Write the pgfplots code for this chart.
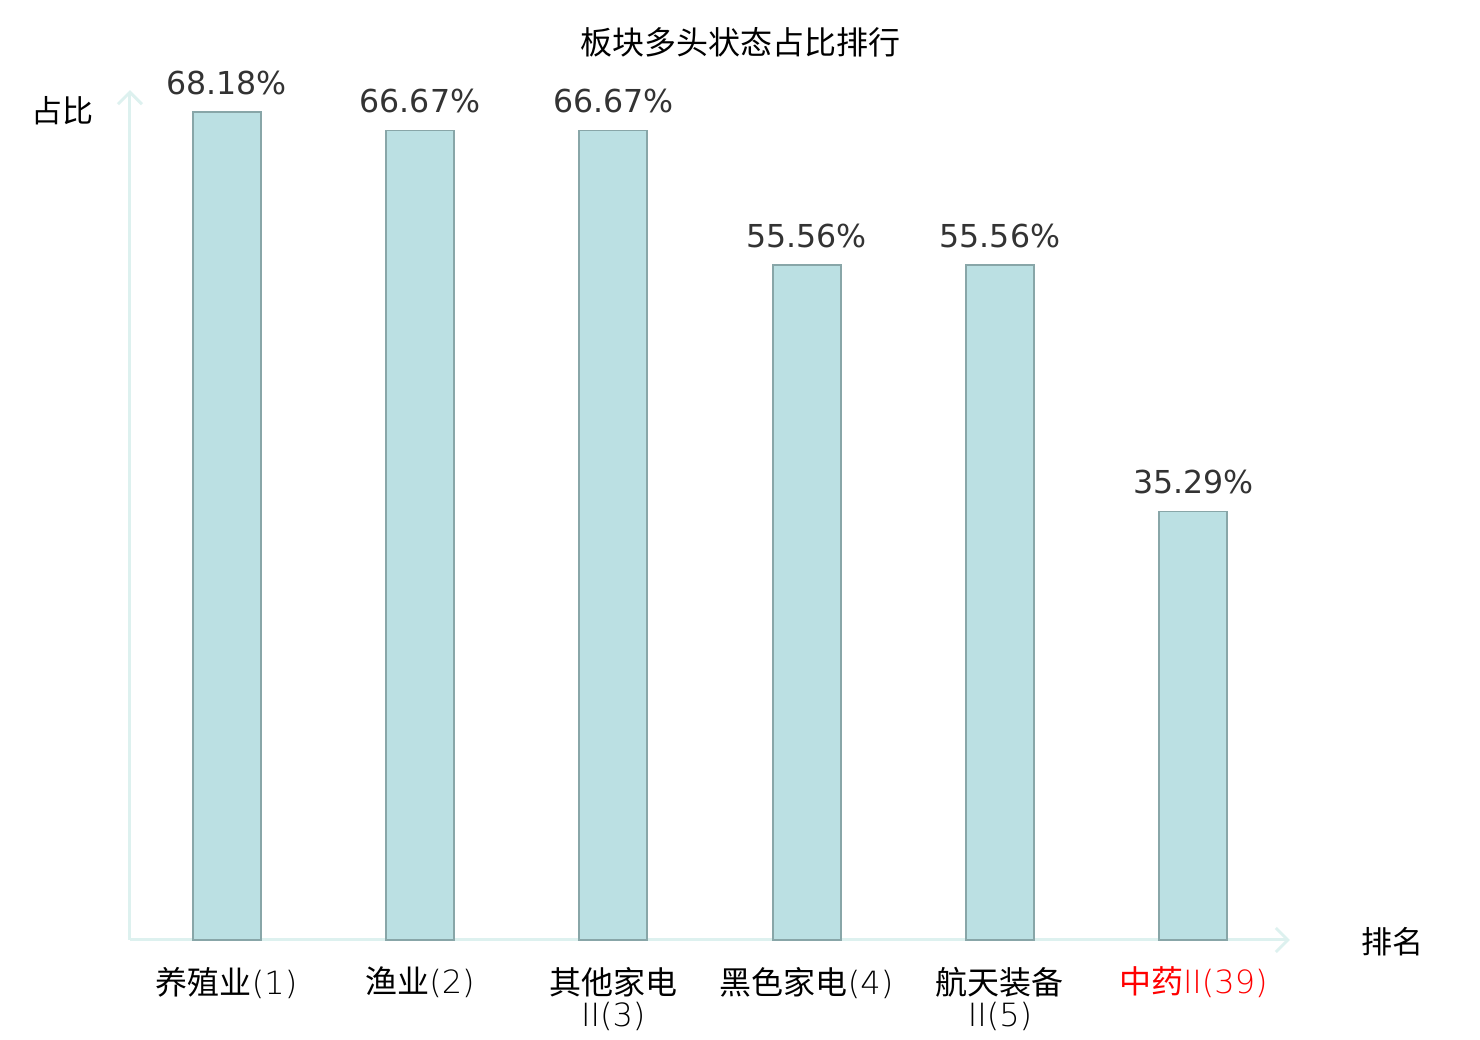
\documentclass[border=0pt]{standalone}
\usepackage{pgfplots}
\pgfplotsset{compat=1.18}
\usetikzlibrary{arrows.meta}
\usepackage{fontspec}
\setmainfont{DejaVu Sans}
\newfontfamily\cjk{Noto Sans CJK SC}
\newfontfamily\thin{DejaVu Sans ExtraLight}
\definecolor{barfill}{HTML}{BBE0E3}
\definecolor{baredge}{HTML}{88A6A8}
\definecolor{axcol}{HTML}{DDF1EF}
\definecolor{valcol}{HTML}{333333}
\begin{document}
\begin{tikzpicture}
\path[use as bounding box, fill=white] (-65pt,-50pt) rectangle (675pt,470pt);
\begin{axis}[
  at={(0,0)}, anchor=south west,
  scale only axis, width=580pt, height=425pt,
  xmin=-0.5, xmax=5.5, ymin=0, ymax=70,
  axis x line=bottom, axis y line=left,
  axis line style={draw=axcol, line width=1.5pt, -{Straight Barb[length=6pt,width=12pt]}},
  ytick=\empty,
  xtick=data,
  major tick length=0pt,
  xticklabels={{养殖业{\thin(1)}},{渔业{\thin(2)}},{其他家电\\{\thin II(3)}},{黑色家电{\thin(4)}},{航天装备\\{\thin II(5)}},{\textcolor{red}{中药{\thin II(39)}}}},
  xticklabel style={font=\cjk\fontsize{16}{16}\selectfont, align=center, yshift=-10pt, text=black},
  /pgf/number format/assume math mode=true,
  ybar, bar width=34pt,
  nodes near coords={\pgfmathprintnumber[fixed,precision=2,fixed zerofill]{\pgfplotspointmeta}\%},
  nodes near coords style={font=\fontsize{15.8}{18}\selectfont, text=valcol, anchor=south, yshift=5pt},
  clip=false,
]
\addplot[fill=barfill, draw=baredge, line width=0.9pt] coordinates {
  (0,68.18) (1,66.67) (2,66.67) (3,55.56) (4,55.56) (5,35.29)
};
\node[font=\cjk\fontsize{16}{18}\selectfont] at (axis description cs:0.5259,1.056) {板块多头状态占比排行};
\node[font=\cjk\fontsize{15.5}{18}\selectfont] at (axis description cs:-0.0578,0.976) {占比};
\node[font=\cjk\fontsize{15.5}{18}\selectfont] at (axis description cs:1.088,-0.002) {排名};
\end{axis}
\end{tikzpicture}
\end{document}
